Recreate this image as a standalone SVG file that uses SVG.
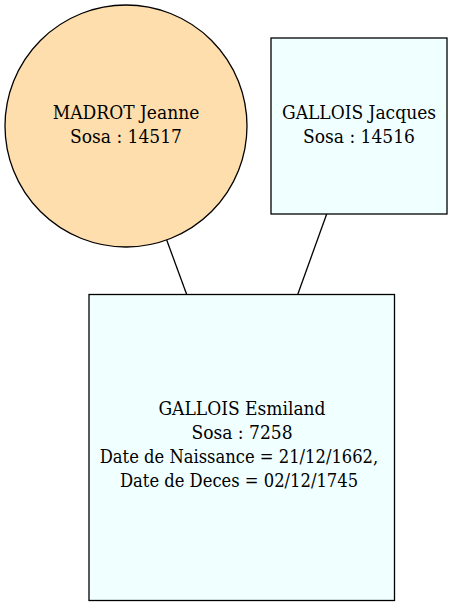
<svg xmlns="http://www.w3.org/2000/svg" width="453" height="605" viewBox="0 0 453 605">
<style>
.t{font-family:'DejaVu Serif Condensed','DejaVu Serif',serif;font-stretch:condensed;font-size:19px;fill:#000;text-anchor:middle}
.d{font-size:18.2px}
.box{fill:#f0ffff;stroke:#000;stroke-width:1.3}
.circ{fill:#ffdead;stroke:#000;stroke-width:1.3}
.edge{stroke:#000;stroke-width:1.3;fill:none}
</style>
<rect width="453" height="605" fill="#fff"/>
<g id="edges">
<line class="edge" x1="166.7" y1="240" x2="186.7" y2="294.5"/>
<line class="edge" x1="326.7" y1="214" x2="297.7" y2="294.5"/>
</g>
<g id="madrot">
<circle class="circ" cx="126" cy="126" r="121"/>
<text class="t" x="126" y="119">MADROT Jeanne</text>
<text class="t" x="126" y="143">Sosa : 14517</text>
</g>
<g id="jacques">
<rect class="box" x="271" y="38" width="176" height="176"/>
<text class="t" x="359" y="119">GALLOIS Jacques</text>
<text class="t" x="359" y="143">Sosa : 14516</text>
</g>
<g id="esmiland">
<rect class="box" x="89" y="294.5" width="305.5" height="306"/>
<text class="t" x="242" y="415">GALLOIS Esmiland</text>
<text class="t" x="242" y="439">Sosa : 7258</text>
<text class="t d" x="239" y="463">Date de Naissance = 21/12/1662,</text>
<text class="t d" x="239" y="487">Date de Deces = 02/12/1745</text>
</g>
</svg>
